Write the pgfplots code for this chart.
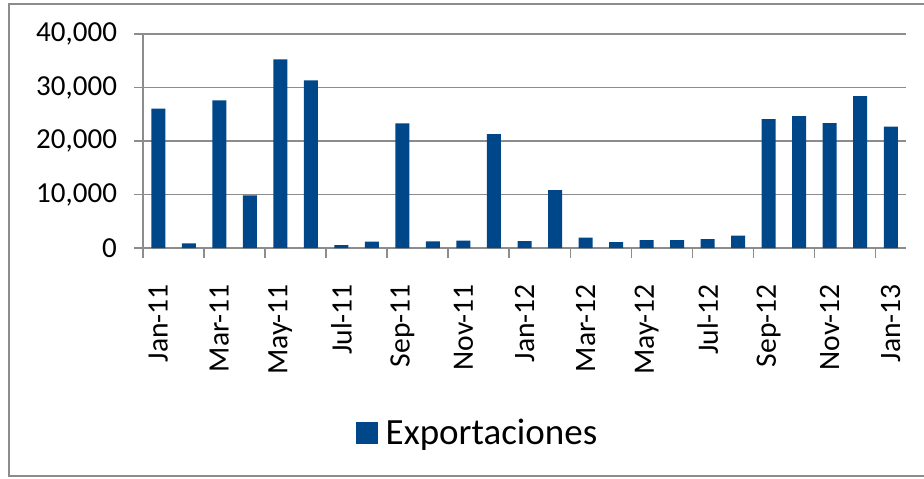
\documentclass[border=0pt]{standalone}
\usepackage{fontspec}
\setmainfont{Carlito}
\usepackage{pgfplots}
\pgfplotsset{compat=1.18}
\definecolor{barblue}{HTML}{00478A}
\definecolor{gridgray}{HTML}{8C8C8C}
\begin{document}
\begin{tikzpicture}
\path[use as bounding box] (0,0) rectangle (462pt,239pt);
\begin{scope}
\clip (0,0) rectangle (462pt,239pt);
\draw[gridgray, line width=1pt] (4.5pt,1pt) rectangle (470pt,237pt);
\end{scope}
\begin{axis}[
  at={(71.5pt,115pt)}, anchor=south west,
  scale only axis, width=381.5pt, height=107pt,
  xmin=-0.5, xmax=24.5, ymin=0, ymax=40000,
  axis x line*=bottom, axis y line*=left,
  axis line style={gridgray, line width=0.75pt, -},
  ytick={0,10000,20000,30000,40000},
  ymajorgrids, grid style={gridgray, line width=0.75pt},
  scaled y ticks=false,
  /pgf/number format/1000 sep={,},
  /pgf/number format/assume math mode=true,
  tick align=outside,
  ytick style={gridgray, line width=0.75pt},
  major tick length=4.5pt,
  yticklabel style={font=\fontsize{14.5}{16}\selectfont, xshift=-5pt},
  xtick={0,2,...,24},
  xticklabels={Jan-11,Mar-11,May-11,Jul-11,Sep-11,Nov-11,Jan-12,Mar-12,May-12,Jul-12,Sep-12,Nov-12,Jan-13},
  xtick style={draw=none},
  xticklabel style={rotate=90, anchor=east, font=\fontsize{14.8}{16}\selectfont, xshift=-10pt},
  extra x ticks={-0.5,1.5,...,23.5},
  extra x tick labels={},
  extra x tick style={xtick style={draw=gridgray, line width=0.75pt}, major tick length=5pt},
  legend style={at={(0.44,-0.864)}, anchor=center, draw=none, fill=none,
    font=\fontsize{18.5}{20}\selectfont},
  legend image code/.code={\fill[barblue] (0pt,-5.4pt) rectangle (10.8pt,5.4pt);},
]
\addplot[ybar, bar width=7pt, fill=barblue, draw=none] coordinates {
(0,26070) (1,870) (2,27600) (3,9830) (4,35270) (5,31350) (6,560) (7,1180)
(8,23300) (9,1240) (10,1370) (11,21280) (12,1300) (13,10820) (14,1930)
(15,1120) (16,1490) (17,1490) (18,1680) (19,2300) (20,24070) (21,24630)
(22,23330) (23,28370) (24,22700)
};
\addlegendentry{\hspace{2pt}Exportaciones}
\end{axis}
\end{tikzpicture}
\end{document}
